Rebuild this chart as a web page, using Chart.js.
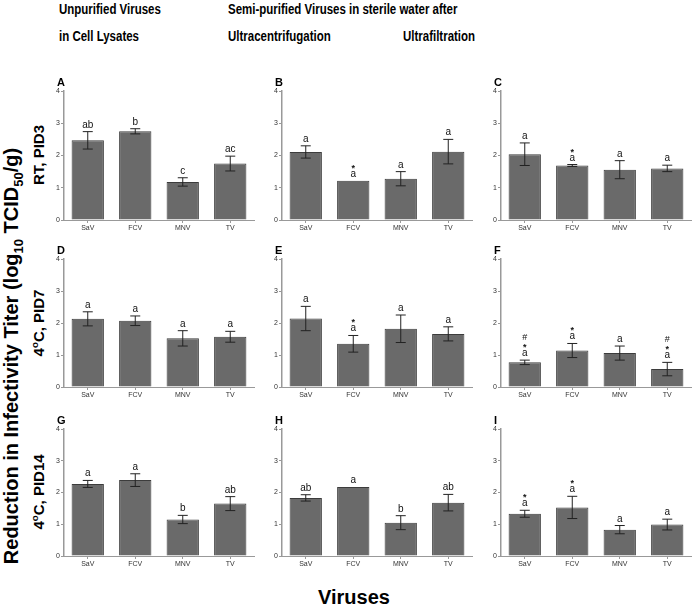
<!DOCTYPE html>
<html>
<head>
<meta charset="utf-8">
<script src="https://cdn.jsdelivr.net/npm/chart.js@4.4.0/dist/chart.umd.min.js"></script>
<style>
    body { margin: 0; background: #fff; width: 696px; height: 610px; position: relative; overflow: hidden; font-family: "Liberation Sans", Arial, sans-serif; }
    .t { position: absolute; font-weight: bold; white-space: nowrap; color: #000; line-height: 1; }
    .narrow { transform: scaleX(0.82); transform-origin: left top; }
    .rot { transform: translate(-50%, -50%) rotate(-90deg); }
    .letter { position: absolute; font-weight: bold; font-size: 11px; line-height: 1; }
    canvas { position: absolute; }
    sub, sup { font-size: 65%; line-height: 0; }
</style>
</head>
<body>
<div class="t narrow" style="left:59px;top:2px;font-size:14px">Unpurified Viruses</div>
<div class="t narrow" style="left:59px;top:29px;font-size:14px">in Cell Lysates</div>
<div class="t narrow" style="left:228px;top:2px;font-size:14px">Semi-purified Viruses in sterile water after</div>
<div class="t narrow" style="left:228px;top:29px;font-size:14px">Ultracentrifugation</div>
<div class="t narrow" style="left:403px;top:29px;font-size:14px">Ultrafiltration</div>

<div class="t rot" style="left:11px;top:356px;font-size:20px">Reduction in Infectivity Titer (log<sub>10</sub> TCID<sub>50</sub>/g)</div>
<div class="t rot" style="left:38px;top:155px;font-size:15px">RT, PID3</div>
<div class="t rot" style="left:38px;top:323px;font-size:15px">4<sup>o</sup>C, PID7</div>
<div class="t rot" style="left:38px;top:492px;font-size:15px">4<sup>o</sup>C, PID14</div>
<div class="t" style="left:318px;top:587px;font-size:20px">Viruses</div>

<script>
// categories
const viruses = ['SaV', 'FCV', 'MNV', 'TV'];
const yTicks = [0, 1, 2, 3, 4];

// A: unpurified, RT PID3
const meanA = [2.47, 2.75, 1.18, 1.75];
const errA = [0.27, 0.08, 0.13, 0.23];
const labA = [['ab'], ['b'], ['c'], ['ac']];
// B: ultracentrifugation, RT PID3
const meanB = [2.11, 1.22, 1.28, 2.12];
const errB = [0.19, 0, 0.22, 0.38];
const labB = [['a'], ['*', 'a'], ['a'], ['a']];
// C: ultrafiltration, RT PID3
const meanC = [2.04, 1.69, 1.56, 1.60];
const errC = [0.35, 0.03, 0.28, 0.10];
const labC = [['a'], ['*', 'a'], ['a'], ['a']];
// D
const meanD = [2.13, 2.07, 1.52, 1.57];
const errD = [0.22, 0.15, 0.24, 0.17];
const labD = [['a'], ['a'], ['a'], ['a']];
// E
const meanE = [2.14, 1.35, 1.82, 1.66];
const errE = [0.38, 0.26, 0.43, 0.22];
const labE = [['a'], ['*', 'a'], ['a'], ['a']];
// F
const meanF = [0.77, 1.14, 1.06, 0.56];
const errF = [0.07, 0.22, 0.22, 0.21];
const labF = [['#', '*', 'a'], ['*', 'a'], ['a'], ['#', '*', 'a']];
// G
const meanG = [2.27, 2.39, 1.15, 1.65];
const errG = [0.11, 0.20, 0.13, 0.22];
const labG = [['a'], ['a'], ['b'], ['ab']];
// H
const meanH = [1.83, 2.17, 1.05, 1.68];
const errH = [0.10, 0, 0.22, 0.26];
const labH = [['ab'], ['a'], ['b'], ['ab']];
// I
const meanI = [1.33, 1.53, 0.83, 0.99];
const errI = [0.11, 0.35, 0.13, 0.17];
const labI = [['*', 'a'], ['*', 'a'], ['a'], ['a']];

const panels = [
    { id: 'A', mean: meanA, err: errA, lab: labA },
    { id: 'B', mean: meanB, err: errB, lab: labB },
    { id: 'C', mean: meanC, err: errC, lab: labC },
    { id: 'D', mean: meanD, err: errD, lab: labD },
    { id: 'E', mean: meanE, err: errE, lab: labE },
    { id: 'F', mean: meanF, err: errF, lab: labF },
    { id: 'G', mean: meanG, err: errG, lab: labG },
    { id: 'H', mean: meanH, err: errH, lab: labH },
    { id: 'I', mean: meanI, err: errI, lab: labI }
];

// layout of the grid
const colX = [64, 282, 501];
const rowTop = [91, 259, 429];
const rowH = [129, 128, 127];
const plotW = 190;
const yAxisW = 20, xAxisH = 20, padTop = 26;

// error bars + significance letters
const errorBars = {
    id: 'errorBars',
    afterDatasetsDraw(chart, args, opts) {
        const ctx = chart.ctx;
        const y = chart.scales.y;
        const meta = chart.getDatasetMeta(0);
        const data = chart.data.datasets[0].data;
        ctx.save();
        meta.data.forEach((bar, i) => {
            const v = data[i], e = opts.err[i];
            const yt = y.getPixelForValue(v + e);
            const yb = y.getPixelForValue(v - e);
            if (e > 0.02) {
                ctx.strokeStyle = '#222';
                ctx.lineWidth = 1;
                ctx.beginPath();
                ctx.moveTo(bar.x, yt); ctx.lineTo(bar.x, yb);
                ctx.moveTo(bar.x - 5, yt); ctx.lineTo(bar.x + 5, yt);
                ctx.moveTo(bar.x - 5, yb); ctx.lineTo(bar.x + 5, yb);
                ctx.stroke();
            }
            const lines = opts.labels[i];
            let yy = Math.min(yt, bar.y) - 4;
            ctx.fillStyle = '#111';
            ctx.textAlign = 'center';
            ctx.textBaseline = 'alphabetic';
            for (let k = lines.length - 1; k >= 0; k--) {
                const s = lines[k];
                if (s === '*') {
                    yy -= 6;
                    ctx.font = 'bold 9px "Liberation Sans"';
                } else if (s === '#') {
                    yy -= 10;
                    ctx.font = '9px "Liberation Sans"';
                } else {
                    ctx.font = '10px "Liberation Sans"';
                }
                ctx.fillText(s, bar.x, yy);
            }
        });
        ctx.restore();
    }
};

panels.forEach((p, idx) => {
    const col = idx % 3, row = Math.floor(idx / 3);
    const cv = document.createElement('canvas');
    cv.width = yAxisW + plotW + 4;
    cv.height = padTop + rowH[row] + xAxisH;
    cv.style.left = (colX[col] - yAxisW) + 'px';
    cv.style.top = (rowTop[row] - padTop) + 'px';
    document.body.appendChild(cv);

    const lt = document.createElement('div');
    lt.className = 'letter';
    lt.textContent = p.id;
    lt.style.left = (colX[col] - 7) + 'px';
    lt.style.top = (rowTop[row] - 14) + 'px';
    document.body.appendChild(lt);

    new Chart(cv.getContext('2d'), {
        type: 'bar',
        data: {
            labels: viruses,
            datasets: [{
                data: p.mean,
                backgroundColor: '#6a6a6a',
                borderColor: '#3c3c3c',
                borderWidth: 1,
                categoryPercentage: 1,
                barPercentage: 0.68
            }]
        },
        options: {
            responsive: false,
            animation: false,
            layout: { padding: { top: padTop, right: 4, left: 0, bottom: 0 } },
            plugins: {
                legend: { display: false },
                tooltip: { enabled: false },
                errorBars: { err: p.err, labels: p.lab }
            },
            scales: {
                x: {
                    afterFit: s => { s.height = xAxisH; },
                    grid: { offset: false, drawOnChartArea: false, tickLength: 3, color: '#999' },
                    border: { color: '#999', width: 1 },
                    ticks: { font: { size: 7, family: 'Liberation Sans' }, color: '#333', padding: 1 }
                },
                y: {
                    min: 0,
                    max: 4,
                    afterFit: s => { s.width = yAxisW; },
                    afterBuildTicks: s => { s.ticks = yTicks.map(v => ({ value: v })); },
                    grid: { drawOnChartArea: false, tickLength: 3, color: '#999' },
                    border: { color: '#999', width: 1.5 },
                    ticks: { font: { size: 7, family: 'Liberation Sans' }, color: '#333', padding: 1 }
                }
            }
        },
        plugins: [errorBars]
    });
});
</script>
</body>
</html>
